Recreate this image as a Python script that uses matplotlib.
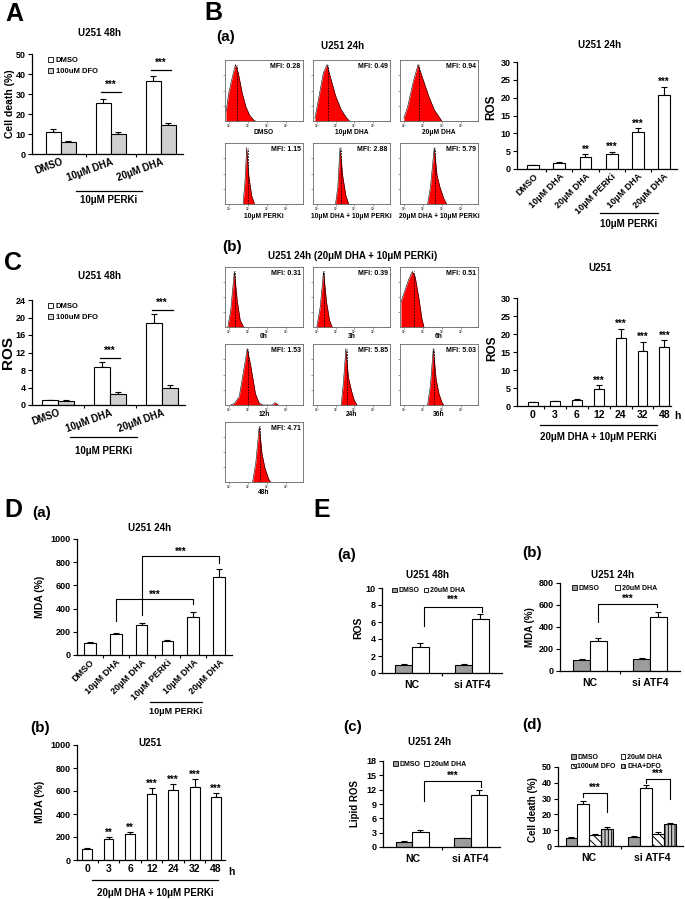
import numpy as np
import matplotlib.pyplot as plt
from matplotlib.lines import Line2D
from matplotlib.patches import Patch

plt.rcParams['font.family'] = ['Liberation Sans', 'DejaVu Sans']
plt.rcParams['font.weight'] = 'bold'
plt.rcParams['hatch.linewidth'] = 0.7

# ---------------- data ----------------
# A: cell death, U251 48h
a_groups = ['DMSO', '10μM DHA', '20μM DHA']
a_dmso = [11.0, 25.5, 36.5]
a_dmso_err = [1.3, 1.8, 2.3]
a_dfo = [6.0, 10.0, 14.5]
a_dfo_err = [0.6, 0.8, 1.0]

# C: ROS, U251 48h
c_dmso = [1.1, 8.6, 18.7]
c_dmso_err = [0.15, 1.2, 2.0]
c_dfo = [0.9, 2.6, 4.0]
c_dfo_err = [0.2, 0.35, 0.6]

# B(a): flow histograms (log10 decades from panel edge, relative counts)
ha_labels = ['DMSO', '10μM DHA', '20μM DHA', '10μM PERKi',
             '10μM DHA + 10μM PERKi', '20μM DHA + 10μM PERKi']
ha_mfi = ['0.28', '0.49', '0.94', '1.15', '2.88', '5.79']
ha_x = [[0.05, 0.2, 0.4, 0.55, 0.7, 0.9, 1.1, 1.3, 1.5, 1.6],
        [0.1, 0.3, 0.55, 0.75, 0.95, 1.2, 1.5, 1.8, 1.95],
        [0.2, 0.4, 0.7, 0.95, 1.2, 1.5, 1.8, 2.1, 2.2],
        [0.95, 1.05, 1.14, 1.25, 1.4, 1.55],
        [1.2, 1.32, 1.44, 1.58, 1.75, 1.9],
        [1.45, 1.6, 1.8, 1.95, 2.1, 2.3, 2.45]]
ha_y = [[0.15, 0.5, 0.8, 1.0, 0.85, 0.5, 0.25, 0.1, 0.02, 0],
        [0.05, 0.4, 0.85, 1.0, 0.75, 0.45, 0.2, 0.05, 0],
        [0.05, 0.25, 0.7, 1.0, 0.75, 0.45, 0.2, 0.05, 0],
        [0, 0.4, 1.0, 0.5, 0.15, 0],
        [0, 0.3, 1.0, 0.5, 0.15, 0],
        [0, 0.3, 1.0, 0.5, 0.3, 0.1, 0]]
ha_mean = [0.65, 0.8, 0.98, 1.2, 1.5, 1.85]

# B(a): ROS bars
ba_labels = ['DMSO', '10μM DHA', '20μM DHA', '10μM PERKi', '10μM DHA', '20μM DHA']
ba_ros = [1.0, 1.7, 3.3, 4.1, 10.3, 20.8]
ba_err = [0.2, 0.3, 0.8, 0.8, 1.1, 2.3]
ba_sig = ['', '', '**', '***', '***', '***']

# B(b): flow histograms over time
hb_labels = ['0h', '3h', '6h', '12h', '24h', '36h', '48h']
hb_mfi = ['0.31', '0.39', '0.51', '1.53', '5.85', '5.03', '4.71']
hb_x = [[0.15, 0.3, 0.49, 0.65, 0.8, 0.98],
        [0.2, 0.38, 0.56, 0.72, 0.88, 1.02],
        [0.05, 0.2, 0.45, 0.65, 0.8, 1.0, 1.15, 1.26],
        [0.3, 0.5, 0.75, 0.95, 1.17, 1.35, 1.6, 1.8, 2.0, 2.5, 2.6, 2.7, 2.8],
        [1.5, 1.62, 1.75, 1.88, 2.05, 2.2, 2.35],
        [1.45, 1.6, 1.75, 1.9, 2.05, 2.2, 2.3],
        [1.45, 1.62, 1.8, 1.95, 2.1, 2.3, 2.4]]
hb_y = [[0, 0.3, 1.0, 0.45, 0.12, 0],
        [0, 0.35, 1.0, 0.45, 0.12, 0],
        [0.45, 0.6, 0.85, 1.0, 0.9, 0.5, 0.15, 0],
        [0, 0.03, 0.15, 0.55, 1.0, 0.7, 0.2, 0.03, 0, 0, 0.04, 0.03, 0],
        [0, 0.4, 1.0, 0.5, 0.25, 0.08, 0],
        [0, 0.35, 1.0, 0.45, 0.2, 0.05, 0],
        [0, 0.35, 1.0, 0.5, 0.25, 0.05, 0]]
hb_mean = [0.52, 0.6, 0.72, 1.2, 1.8, 1.78, 1.85]

# B(b): ROS time course
hours = ['0', '3', '6', '12', '24', '32', '48']
bb_ros = [1.0, 1.3, 1.6, 4.8, 19.0, 15.3, 16.3]
bb_err = [0.15, 0.2, 0.25, 1.0, 2.5, 2.6, 2.0]
bb_sig = ['', '', '', '***', '***', '***', '***']

# D: MDA
da_mda = [100, 185, 255, 118, 330, 675]
da_err = [15, 8, 25, 8, 40, 70]
db_mda = [100, 185, 228, 575, 610, 635, 545]
db_err = [8, 18, 15, 50, 50, 70, 40]
db_sig = ['', '**', '**', '***', '***', '***', '***']

# E: ATF4 knockdown
e_groups = ['NC', 'si ATF4']
ea_dmso = [1.0, 0.95]
ea_dmso_err = [0.1, 0.1]
ea_dha = [3.1, 6.3]
ea_dha_err = [0.45, 0.6]
eb_dmso = [100, 110]
eb_dmso_err = [10, 12]
eb_dha = [270, 490]
eb_dha_err = [30, 50]
ec_dmso = [1.1, 1.8]
ec_dmso_err = [0.1, 0.1]
ec_dha = [3.2, 10.8]
ec_dha_err = [0.45, 1.2]
ed_dmso = [5.2, 6.0]
ed_dmso_err = [0.5, 0.5]
ed_dha = [26.8, 36.5]
ed_dha_err = [1.8, 2.0]
ed_dfo = [7.0, 7.3]
ed_dfo_err = [0.6, 1.3]
ed_both = [11.0, 13.8]
ed_both_err = [1.0, 0.7]

LIGHT = '#d0d0d0'
MID = '#9c9c9c'

W, H = 685, 899
fig = plt.figure(figsize=(W / 100, H / 100), dpi=100)


def box(x0, y0, x1, y1):
    return fig.add_axes([x0 / W, 1 - y1 / H, (x1 - x0) / W, (y1 - y0) / H])


def label(x, y, s, size, **kw):
    kw.setdefault('ha', 'center')
    kw.setdefault('va', 'center')
    fig.text(x / W, 1 - y / H, s, fontsize=size, fontweight='bold', **kw)


def under(x0, x1, y, text, ty, size=7):
    fig.add_artist(Line2D([x0 / W, x1 / W], [1 - y / H, 1 - y / H], color='k', lw=0.9))
    label((x0 + x1) / 2, ty, text, size)


def bar_axes(pos, ylim, yticks, xlim, labels, rot=0, ysize=6.5, xsize=7, xpad=2):
    ax = box(*pos)
    ax.spines['top'].set_visible(False)
    ax.spines['right'].set_visible(False)
    ax.spines['left'].set_linewidth(0.9)
    ax.spines['bottom'].set_linewidth(0.9)
    ax.set_ylim(ylim)
    ax.set_yticks(yticks)
    ax.set_xlim(xlim)
    n = len(labels)
    ax.set_xticks(np.arange(n - 1) + 0.5)
    ax.set_xticks(np.arange(n), labels, minor=True, rotation=rot,
                  ha='right' if rot else 'center', rotation_mode='anchor')
    ax.tick_params(axis='y', length=3, width=0.8, labelsize=ysize, pad=1.5)
    ax.tick_params(axis='x', which='major', length=2.5, width=0.8, labelbottom=False)
    ax.tick_params(axis='x', which='minor', length=0, labelsize=xsize, pad=xpad)
    return ax


def bars(ax, x, vals, errs, w, color, hatch=None):
    ax.bar(x, vals, w, color=color, edgecolor='black', linewidth=0.8, hatch=hatch, zorder=2)
    ax.errorbar(x, vals, yerr=[np.zeros(len(vals)), errs], fmt='none', ecolor='black',
                elinewidth=0.8, capsize=2, capthick=0.8, zorder=1)


def stars(ax, x, y, s, size=7):
    ax.text(x, y, s, ha='center', va='bottom', fontsize=size, fontweight='bold')


def bracket(ax, x0, x1, y, yl, yr, s, ty, size=7):
    ax.plot([x0, x0, x1, x1], [yl, y, y, yr], color='k', lw=0.8, clip_on=False)
    ax.text((x0 + x1) / 2, ty, s, ha='center', va='center', fontsize=size, fontweight='bold')


def hist_axes(pos, xs, ys, mean, mfi, name, name_y):
    ax = box(*pos)
    ax.fill_between(xs, ys, color='#ff0000', lw=0)
    ax.plot(xs, ys, color='k', lw=0.4)
    ax.plot([mean, mean], [0, 1.0], color='k', lw=0.6, ls=(0, (2, 1.5)))
    ax.set_xlim(0, 4.1)
    ax.set_ylim(0, 1.08)
    major = np.arange(4) + 0.2
    minor = [m + np.log10(k) for m in major for k in range(2, 10) if m + np.log10(k) < 4.1]
    ax.set_xticks(major, ['10⁰', '10¹', '10²', '10³'])
    ax.set_xticks(minor, minor=True)
    ax.set_yticks([0.27, 0.54, 0.81], [])
    ax.tick_params(axis='x', which='major', length=1.5, width=0.4, labelsize=2.2, pad=0.5, colors='#555')
    ax.tick_params(axis='x', which='minor', length=0.8, width=0.3, colors='#555')
    ax.tick_params(axis='y', length=1.2, width=0.4, colors='#555')
    for s in ax.spines.values():
        s.set_linewidth(0.6)
        s.set_color('#666')
    ax.text(0.97, 0.95, 'MFI: ' + mfi, transform=ax.transAxes, ha='right', va='top', fontsize=5)
    label((pos[0] + pos[2]) / 2, name_y, name, 4.8)
    return ax


# ---------------- panel letters ----------------
label(14, 14, 'A', 18)
label(213, 13, 'B', 18)
label(226, 37, '(a)', 11)
label(232, 247, '(b)', 11)
label(13, 263, 'C', 18)
label(13, 510, 'D', 18)
label(42, 513, '(a)', 11)
label(40, 728, '(b)', 11)
label(322, 510, 'E', 18)
label(347, 555, '(a)', 11)
label(532, 553, '(b)', 11)
label(353, 727, '(c)', 11)
label(532, 725, '(d)', 11)

# ---------------- A ----------------
ax = bar_axes((32, 54, 183, 154), (0, 50), range(0, 51, 10), (-0.58, 2.44), a_groups, rot=20)
x = np.arange(3)
bars(ax, x - 0.15, a_dmso, a_dmso_err, 0.3, 'white')
bars(ax, x + 0.15, a_dfo, a_dfo_err, 0.3, LIGHT)
for i, (ly, ty) in zip([1, 2], [(31, 32.3), (42, 43.3)]):
    ax.plot([i - 0.2, i + 0.2], [ly, ly], color='k', lw=0.9)
    stars(ax, i, ty, '***')
ax.legend(handles=[Patch(fc='white', ec='k', lw=0.6, label='DMSO'),
                   Patch(fc=LIGHT, ec='k', lw=0.6, label='100uM DFO')],
          loc='upper left', bbox_to_anchor=(0.06, 1.04), frameon=False, fontsize=5.5,
          handlelength=0.7, handleheight=0.7, handletextpad=0.3, labelspacing=0.5)
label(100, 33, 'U251 48h', 7)
label(10, 104, 'Cell death (%)', 7.5, rotation=90)
under(76, 142, 191, '10μM PERKi', 200)

# ---------------- C ----------------
ax = bar_axes((32, 300, 185, 405), (0, 24), range(0, 25, 4), (-0.5, 2.44), a_groups, rot=20)
bars(ax, x - 0.15, c_dmso, c_dmso_err, 0.3, 'white')
bars(ax, x + 0.15, c_dfo, c_dfo_err, 0.3, LIGHT)
for i, (ly, ty) in zip([1, 2], [(10.7, 11.2), (21.7, 22.2)]):
    ax.plot([i - 0.2, i + 0.2], [ly, ly], color='k', lw=0.9)
    stars(ax, i, ty, '***')
ax.legend(handles=[Patch(fc='white', ec='k', lw=0.6, label='DMSO'),
                   Patch(fc=LIGHT, ec='k', lw=0.6, label='100uM DFO')],
          loc='upper left', bbox_to_anchor=(0.06, 1.04), frameon=False, fontsize=5.5,
          handlelength=0.7, handleheight=0.7, handletextpad=0.3, labelspacing=0.5)
label(100, 276, 'U251 48h', 7)
label(8, 352, 'ROS', 11, rotation=90)
under(70, 137, 437, '10μM PERKi', 451)

# ---------------- B(a) histograms ----------------
label(343, 46, 'U251 24h', 7)
cols = [(225, 303), (313, 390), (400, 478)]
rows_a = [(60, 121, 133), (143, 204, 217)]
for k in range(6):
    r, c = divmod(k, 3)
    hist_axes((cols[c][0], rows_a[r][0], cols[c][1], rows_a[r][1]),
              ha_x[k], ha_y[k], ha_mean[k], ha_mfi[k], ha_labels[k], rows_a[r][2])

# ---------------- B(a) bars ----------------
ax = bar_axes((517, 62, 677, 169), (0, 30), range(0, 31, 5), (-0.62, 5.5), ba_labels,
              rot=45, xsize=6.5)
xb = np.arange(6)
bars(ax, xb, ba_ros, ba_err, 0.45, 'white')
for i in xb:
    if ba_sig[i]:
        stars(ax, i, ba_ros[i] + ba_err[i] - 0.2, ba_sig[i])
label(600, 45, 'U251 24h', 7)
label(491, 107, 'ROS', 8.5, rotation=90)
under(600, 658, 213, '10μM PERKi', 224)

# ---------------- B(b) histograms ----------------
label(353, 256, 'U251 24h (20μM DHA + 10μM PERKi)', 7)
rows_b = [(267, 327, 336), (344, 405, 415), (422, 482, 492)]
for k in range(7):
    r, c = divmod(k, 3)
    hist_axes((cols[c][0], rows_b[r][0], cols[c][1], rows_b[r][1]),
              hb_x[k], hb_y[k], hb_mean[k], hb_mfi[k], hb_labels[k], rows_b[r][2])

# ---------------- B(b) bars ----------------
ax = bar_axes((517, 298, 671, 406), (0, 30), range(0, 31, 5), (-0.73, 6.3), hours,
              xsize=7.5, xpad=3)
xh = np.arange(7)
bars(ax, xh, bb_ros, bb_err, 0.45, 'white')
for i in xh:
    if bb_sig[i]:
        stars(ax, i, bb_ros[i] + bb_err[i] - 0.2, bb_sig[i])
label(600, 268, 'U251', 7)
label(492, 348, 'ROS', 8.5, rotation=90)
label(677, 416, 'h', 7.5)
under(540, 657, 425, '20μM DHA + 10μM PERKi', 437)

# ---------------- D(a) ----------------
ax = bar_axes((77, 539, 232, 655), (0, 1000), range(0, 1001, 200), (-0.5, 5.5), ba_labels,
              rot=45, xsize=6.5)
bars(ax, xb, da_mda, da_err, 0.45, 'white')
bracket(ax, 1, 4, 483, 293, 440, '***', 520)
bracket(ax, 2, 5, 853, 345, 793, '***', 885)
label(150, 528, 'U251 24h', 7)
label(40, 597, 'MDA (%)', 7.5, rotation=90)
under(150, 202, 702, '10μM PERKi', 712, 6.5)

# ---------------- D(b) ----------------
ax = bar_axes((77, 745, 225, 860), (0, 1000), range(0, 1001, 200), (-0.47, 6.41), hours,
              xsize=7.5, xpad=3)
bars(ax, xh, db_mda, db_err, 0.45, 'white')
for i in xh:
    if db_sig[i]:
        stars(ax, i, db_mda[i] + db_err[i] - 10, db_sig[i])
label(150, 743, 'U251', 7)
label(40, 802, 'MDA (%)', 7.5, rotation=90)
label(231, 872, 'h', 7.5)
under(92, 218, 880, '20μM DHA + 10μM PERKi', 893)

# ---------------- E ----------------
xe = np.arange(2)


def e_legend(ax, handles, ncol, anchor, spacing=1.0):
    ax.legend(handles=handles, loc='upper left', bbox_to_anchor=anchor, ncol=ncol,
              frameon=False, fontsize=5, handlelength=0.7, handleheight=0.7,
              handletextpad=0.25, columnspacing=spacing, labelspacing=0.35, borderaxespad=0)


def two_patches():
    return [Patch(fc=MID, ec='k', lw=0.6, label='DMSO'),
            Patch(fc='white', ec='k', lw=0.6, label='20uM DHA')]


# E(a)
ax = bar_axes((382, 588, 502, 673), (0, 10), range(0, 11, 2), (-0.5, 1.5), e_groups,
              xsize=7.5, xpad=5)
bars(ax, xe - 0.14, ea_dmso, ea_dmso_err, 0.28, MID)
bars(ax, xe + 0.14, ea_dha, ea_dha_err, 0.28, 'white')
bracket(ax, 0.2, 1.17, 7.8, 5.5, 7.2, '***', 8.6)
e_legend(ax, two_patches(), 2, (0.06, 1.04), 0.6)
label(428, 575, 'U251 48h', 7)
label(358, 628, 'ROS', 7.5, rotation=90)

# E(b)
ax = bar_axes((560, 583, 680, 671), (0, 800), range(0, 801, 200), (-0.5, 1.5), e_groups,
              xsize=7.5, xpad=5)
bars(ax, xe - 0.14, eb_dmso, eb_dmso_err, 0.28, MID)
bars(ax, xe + 0.14, eb_dha, eb_dha_err, 0.28, 'white')
bracket(ax, 0.14, 1.12, 609, 445, 582, '***', 660)
e_legend(ax, two_patches(), 2, (0.08, 1.01), 2.2)
label(613, 575, 'U251 24h', 7)
label(530, 627, 'MDA (%)', 7, rotation=90)

# E(c)
ax = bar_axes((383, 761, 500, 847), (0, 18), range(0, 19, 3), (-0.5, 1.5), e_groups,
              xsize=7.5, xpad=5)
bars(ax, xe - 0.14, ec_dmso, ec_dmso_err, 0.28, MID)
bars(ax, xe + 0.14, ec_dha, ec_dha_err, 0.28, 'white')
bracket(ax, 0.2, 1.17, 13.8, 9.6, 12.6, '***', 14.8)
e_legend(ax, two_patches(), 2, (0.06, 1.03), 0.6)
label(430, 742, 'U251 24h', 7)
label(355, 804, 'Lipid ROS', 7, rotation=90)

# E(d)
ax = bar_axes((558, 767, 683, 846), (0, 50), range(0, 51, 10), (-0.5, 1.5), e_groups,
              xsize=7.5, xpad=5)
w = 0.19
bars(ax, xe - 1.5 * w, ed_dmso, ed_dmso_err, w, MID)
bars(ax, xe - 0.5 * w, ed_dha, ed_dha_err, w, 'white')
bars(ax, xe + 0.5 * w, ed_dfo, ed_dfo_err, w, 'white', hatch='\\\\\\\\')
bars(ax, xe + 1.5 * w, ed_both, ed_both_err, w, '#c8c8c8', hatch='|||||')
bracket(ax, -0.5 * w, 1.5 * w, 33.5, 31.0, 21.5, '***', 37.0)
bracket(ax, 1 - 0.5 * w, 1 + 1.5 * w, 42.4, 40.0, 30.0, '***', 45.5)
e_legend(ax, [Patch(fc=MID, ec='k', lw=0.6, label='DMSO'),
              Patch(fc='white', ec='k', lw=0.6, hatch='\\\\\\\\', label='100uM DFO'),
              Patch(fc='white', ec='k', lw=0.6, label='20uM DHA'),
              Patch(fc='#c8c8c8', ec='k', lw=0.6, hatch='|||||', label='DHA+DFO')],
         2, (0.08, 1.2), 0.7)
label(533, 810, 'Cell death (%)', 7, rotation=90)

fig.savefig('out.png', dpi=100)
